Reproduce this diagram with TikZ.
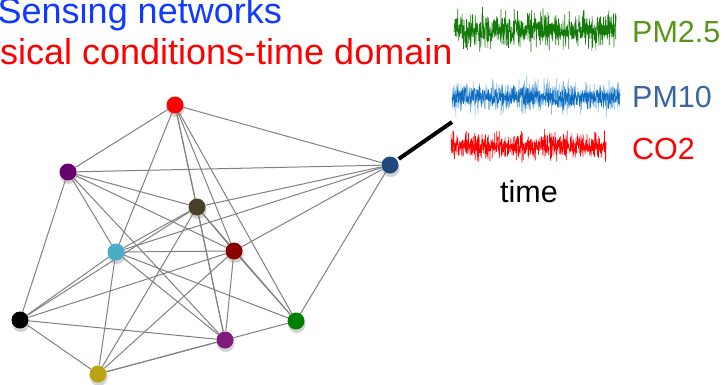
\documentclass[tikz,border=0pt]{standalone}
\usepackage{fontspec}
\setmainfont{Liberation Sans}
\usetikzlibrary{shadows,backgrounds}

% palette
\definecolor{titleblue}{RGB}{16,58,255}
\definecolor{linkgray}{RGB}{128,128,128}
\definecolor{cRed}{RGB}{255,0,0}
\definecolor{cPurple}{RGB}{104,0,110}
\definecolor{cOlive}{RGB}{72,64,40}
\definecolor{cAqua}{RGB}{74,172,198}
\definecolor{cMaroon}{RGB}{138,0,0}
\definecolor{cNavy}{RGB}{31,73,125}
\definecolor{cBlack}{RGB}{0,0,0}
\definecolor{cGreen}{RGB}{0,128,0}
\definecolor{cMagenta}{RGB}{128,26,124}
\definecolor{cMustard}{RGB}{186,164,20}
\definecolor{waveGreen}{RGB}{20,122,10}
\definecolor{waveBlueLight}{RGB}{130,184,230}
\definecolor{waveBlue}{RGB}{14,108,190}
\definecolor{labGreen}{RGB}{86,150,24}
\definecolor{labBlue}{RGB}{58,102,160}

\tikzset{
  vertex/.style={circle, inner sep=0pt, minimum size=17pt, fill=#1,
    circular drop shadow={shadow xshift=0.4pt, shadow yshift=-2.5pt,
      shadow scale=1.12, opacity=0.35}},
  link/.style={draw=linkgray, line width=1pt},
  title/.style={anchor=base west, inner sep=0pt, font=\fontsize{36}{40}\selectfont},
  label/.style={anchor=base west, inner sep=0pt, font=\fontsize{30.5}{34}\selectfont},
  wave/.style={line width=0.6pt, line join=round},
}

\begin{document}
\begin{tikzpicture}[x=1pt, y=-1pt]
\useasboundingbox (0,0) rectangle (727,384);

% headings
\node[title, text=titleblue] (head1) at (-2.5,23) {Sensing networks};
\node[title, text=cRed] (head2) at (0,64) {sical conditions-time domain};

% sensor nodes
\node[vertex=cRed]     (R) at (175,105) {};
\node[vertex=cPurple]  (P) at (68,172) {};
\node[vertex=cOlive]   (O) at (197,207) {};
\node[vertex=cAqua]    (C) at (116,252) {};
\node[vertex=cMaroon]  (D) at (234,251) {};
\node[vertex=cNavy]    (B) at (390,165) {};
\node[vertex=cBlack]   (K) at (20,320) {};
\node[vertex=cGreen]   (G) at (296,321) {};
\node[vertex=cMagenta] (M) at (225,340) {};
\node[vertex=cMustard] (Y) at (98,374) {};

% links between sensors, kept behind the nodes
\begin{pgfonlayer}{background}
\foreach \a/\b in {R/P, R/B, R/C, R/O, R/D, R/G, R/M,
                   P/B, P/K, P/O, P/D, P/C, P/M,
                   O/B, O/C, O/D, O/G, O/K, O/Y, O/M,
                   C/B, C/D, C/K, C/Y, C/M, C/G,
                   D/B, D/K, D/Y, D/M, D/G,
                   B/G, K/M, K/Y, Y/M, Y/G}
  \draw[link] (\a) -- (\b);
\end{pgfonlayer}

% time series of one sensor
\pgfmathsetseed{4711}
\draw[wave, waveGreen] plot[domain=454:616, samples=700]
  (\x, {30+8.5*(rand+rand+rand)});
\draw[wave, waveBlueLight] plot[domain=452:620, samples=700]
  (\x, {97+7.5*(rand+rand+rand)});
\draw[wave, waveBlue] plot[domain=452:620, samples=600]
  (\x, {97+4.8*(rand+rand+rand)});
\draw[wave, cRed] plot[domain=451:606, samples=700]
  (\x, {146+6.2*(rand+rand+rand)});

\node[label, text=labGreen] (pm25) at (632,42) {PM2.5};
\node[label, text=labBlue]  (pm10) at (632,107) {PM10};
\node[label, text=cRed]     (co2)  at (632,159) {CO2};
\node[label, text=black]    (time) at (500,202.5) {time};

% link from the sensor to its signals
\coordinate (sig) at (452,122);
\draw[line width=4pt, shorten <=2pt] (B) -- (sig);
\end{tikzpicture}
\end{document}
